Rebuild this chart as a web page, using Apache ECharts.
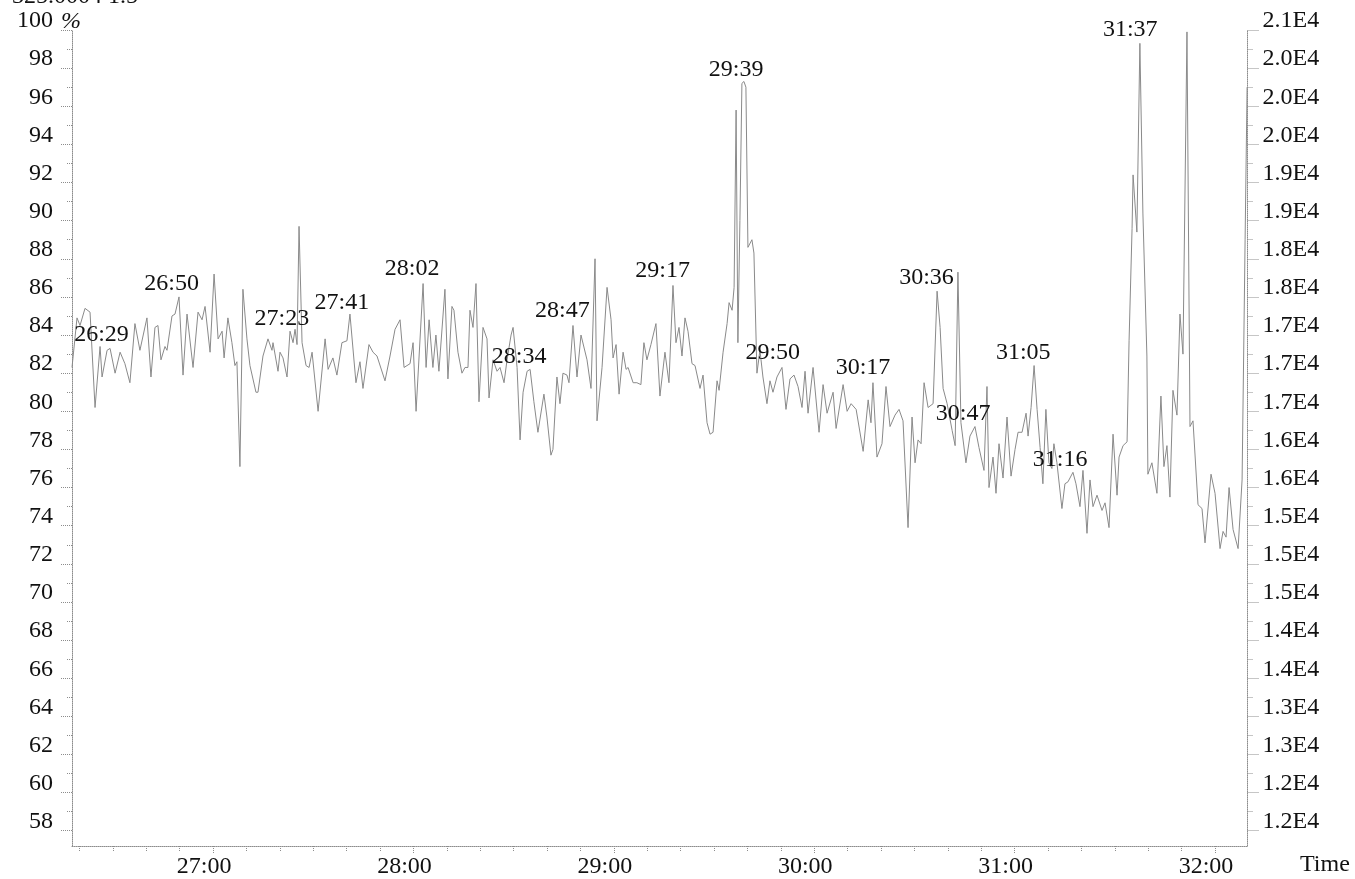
<!DOCTYPE html>
<html>
<head>
<meta charset="utf-8">
<script src="https://cdn.jsdelivr.net/npm/echarts@6/dist/echarts.min.js"></script>
<style>
html,body{margin:0;padding:0;background:#fff;}
#chart{width:1355px;height:879px;}
</style>
</head>
<body>
<div id="chart"></div>
<script>
// Retention time (minutes) of each sampled point
var traceTimes = [
26.296,26.321,26.336,26.361,26.386,26.411,26.436,26.446,26.471,26.486,26.511,26.536,26.560,26.585,26.610,26.635,26.670,26.690,26.710,26.725,
26.740,26.760,26.770,26.795,26.810,26.830,26.850,26.870,26.900,26.925,26.945,26.960,26.985,27.005,27.025,27.045,27.055,27.074,27.094,27.109,
27.119,27.134,27.149,27.169,27.184,27.214,27.224,27.249,27.274,27.294,27.299,27.324,27.334,27.349,27.369,27.384,27.399,27.409,27.419,27.429,
27.444,27.464,27.479,27.494,27.524,27.559,27.574,27.598,27.618,27.643,27.668,27.683,27.713,27.733,27.748,27.778,27.798,27.818,27.858,27.883,
27.908,27.933,27.953,27.983,27.998,28.013,28.048,28.063,28.078,28.097,28.112,28.127,28.157,28.172,28.192,28.202,28.222,28.242,28.257,28.272,
28.282,28.297,28.312,28.327,28.347,28.367,28.377,28.397,28.417,28.432,28.452,28.467,28.487,28.497,28.517,28.532,28.547,28.567,28.582,28.601,
28.621,28.651,28.666,28.686,28.696,28.716,28.731,28.746,28.766,28.776,28.796,28.816,28.836,28.866,28.886,28.906,28.916,28.941,28.966,28.986,
28.996,29.011,29.026,29.046,29.061,29.071,29.096,29.115,29.135,29.150,29.165,29.185,29.210,29.230,29.255,29.275,29.295,29.310,29.325,29.340,
29.355,29.370,29.390,29.405,29.430,29.445,29.465,29.480,29.495,29.515,29.525,29.545,29.565,29.575,29.590,29.600,29.610,29.619,29.629,29.639,
29.649,29.659,29.669,29.689,29.699,29.714,29.729,29.744,29.764,29.779,29.794,29.814,29.839,29.859,29.879,29.899,29.919,29.939,29.954,29.969,
29.994,30.024,30.044,30.064,30.094,30.109,30.144,30.164,30.184,30.209,30.244,30.269,30.283,30.293,30.313,30.338,30.358,30.378,30.403,30.423,
30.443,30.468,30.488,30.503,30.518,30.533,30.548,30.568,30.593,30.613,30.628,30.643,30.663,30.688,30.703,30.717,30.732,30.757,30.777,30.802,
30.822,30.847,30.862,30.872,30.892,30.907,30.922,30.942,30.962,30.982,31.002,31.017,31.037,31.057,31.067,31.082,31.097,31.112,31.127,31.141,
31.156,31.171,31.186,31.196,31.211,31.236,31.251,31.266,31.291,31.306,31.326,31.341,31.361,31.376,31.391,31.411,31.436,31.451,31.471,31.491,
31.511,31.521,31.541,31.561,31.571,31.586,31.591,31.610,31.625,31.640,31.660,31.665,31.685,31.710,31.730,31.745,31.760,31.775,31.790,31.810,
31.825,31.840,31.860,31.875,31.890,31.915,31.935,31.950,31.980,32.000,32.025,32.040,32.055,32.070,32.090,32.115,32.135,32.150,32.160
];
// Relative intensity (%) at each point
var tracePercent = [
82.3,84.9,84.5,85.4,85.2,80.2,83.4,81.8,83.2,83.3,82.0,83.1,82.5,81.5,84.6,83.2,84.9,81.8,84.4,84.5,
82.7,83.4,83.2,85.0,85.1,86.0,81.9,85.1,82.3,85.2,84.8,85.5,83.1,87.2,83.8,84.2,82.8,84.9,83.6,82.4,
82.6,77.1,86.4,83.8,82.4,81.0,81.0,82.9,83.8,83.2,83.6,82.1,83.1,82.8,81.8,84.2,83.6,84.3,83.5,89.7,
83.6,82.4,82.3,83.1,80.0,83.8,82.2,82.8,81.9,83.6,83.7,85.1,81.5,82.6,81.2,83.5,83.1,82.9,81.6,82.9,
84.3,84.8,82.3,82.5,83.6,80.0,86.7,82.3,84.8,82.3,84.0,82.1,86.4,81.7,85.5,85.3,83.1,82.0,82.3,82.3,
85.3,84.4,86.7,80.5,84.4,83.8,80.7,82.7,82.1,82.3,81.5,82.7,84.0,84.4,82.3,78.5,81.0,82.1,82.2,80.5,
78.9,80.9,79.7,77.7,78.0,81.8,80.4,82.0,81.9,81.5,84.5,81.8,84.0,82.7,81.2,88.0,79.5,82.3,86.5,84.8,
82.8,83.5,80.9,83.1,82.2,82.3,81.5,81.5,81.4,83.6,82.7,83.5,84.6,80.8,83.1,81.5,86.6,83.6,84.4,82.9,
84.9,84.2,82.5,82.4,81.2,81.9,79.4,78.8,78.9,81.6,81.1,83.1,84.6,85.7,85.3,86.5,95.8,83.6,90.0,97.2,
97.3,97.0,88.6,89.0,88.3,82.0,83.2,81.8,80.4,81.6,81.0,81.8,82.3,80.1,81.7,81.9,81.3,80.2,82.1,79.9,
82.3,78.9,81.4,79.9,81.0,79.1,81.4,80.0,80.4,80.1,77.9,80.6,79.4,81.5,77.6,78.3,81.3,79.2,79.8,80.1,
79.5,73.9,79.7,77.3,78.5,78.3,81.5,80.2,80.4,86.3,84.4,81.2,80.4,79.0,78.2,87.3,79.4,77.3,78.7,79.2,
78.1,76.9,81.3,76.0,77.6,75.7,78.3,76.5,79.7,76.6,78.0,78.9,78.9,79.9,78.7,80.2,82.4,80.1,78.1,76.2,
80.1,77.3,77.0,78.3,77.3,74.9,76.2,76.3,76.8,76.2,75.0,76.9,73.6,76.4,75.0,75.6,74.8,75.2,73.9,78.8,
75.6,77.6,78.2,78.4,83.7,89.6,92.4,89.4,99.3,90.4,82.9,76.7,77.3,75.7,80.8,77.1,78.2,75.5,81.1,79.8,
85.1,83.0,99.9,79.2,79.5,75.1,74.9,73.1,76.7,75.7,72.8,73.7,73.4,76.0,73.8,72.8,76.4,89.0,97.0
];
// Peak annotations: retention-time text, time (min) and level (%) where the text sits
var peakLabels = ['26:29','26:50','27:23','27:41','28:02','28:34','28:47','29:17','29:39','29:50','30:17','30:36','30:47','31:05','31:16','31:37'];
var peakTimes  = [26.483,26.833,27.383,27.683,28.033,28.567,28.783,29.283,29.650,29.833,30.283,30.600,30.783,31.083,31.267,31.617];
var peakLevels = [84.0,86.7,84.85,85.7,87.5,82.85,85.3,87.4,97.9,83.05,82.3,87.0,79.9,83.1,77.45,100.0];

// Axis ticks
var xTickMinutes = [27,28,29,30,31,32];
var xTickLabels  = ['27:00','28:00','29:00','30:00','31:00','32:00'];
var leftTickValues = [58,60,62,64,66,68,70,72,74,76,78,80,82,84,86,88,90,92,94,96,98,100];
var rightTickLabels = ['1.2E4','1.2E4','1.3E4','1.3E4','1.4E4','1.4E4','1.5E4','1.5E4','1.5E4','1.6E4','1.6E4','1.7E4','1.7E4','1.7E4','1.8E4','1.8E4','1.9E4','1.9E4','2.0E4','2.0E4','2.0E4','2.1E4'];
var headerText = '325.0004 1.5';

var X_MIN = 26.296, X_MAX = 32.162, Y_MIN = 57.2, Y_MAX = 100;
var FONT = 'Liberation Serif';
var FS = 24;

var minorY = [];
for (var v = 59; v < 100; v += 2) minorY.push(v);
var minorX = [];
for (var s = 26 * 60 + 20; s <= 32 * 60 + 10; s += 10) { if (s % 60 !== 0) minorX.push(s / 60); }

var lineData = traceTimes.map(function (t, i) { return [t, tracePercent[i]]; });
var peakData = peakTimes.map(function (t, i) { return [t, peakLevels[i], peakLabels[i]]; });

var axisLineStyle = { color: '#8c8c8c', width: 1, type: 'dotted' };
var tickLineStyle = { color: '#8c8c8c', width: 1, type: 'dotted' };

function yAxisBase(pos) {
  return { type: 'value', position: pos, min: Y_MIN, max: Y_MAX, splitLine: { show: false }, gridIndex: 0 };
}

var chart = echarts.init(document.getElementById('chart'), null, { renderer: 'canvas' });
chart.setOption({
  animation: false,
  backgroundColor: '#ffffff',
  grid: { left: 72, right: 107.5, top: 30, bottom: 33, containLabel: false },
  xAxis: [
    {
      type: 'value', min: X_MIN, max: X_MAX, position: 'bottom',
      axisLine: { show: true, lineStyle: axisLineStyle },
      axisTick: { show: true, customValues: xTickMinutes, length: 8, lineStyle: tickLineStyle },
      axisLabel: {
        show: true, customValues: xTickMinutes, margin: 21, verticalAlign: 'middle',
        padding: [0, 18, 0, 0],
        fontFamily: FONT, fontSize: FS, color: '#111',
        formatter: function (v) { var i = xTickMinutes.indexOf(Math.round(v)); return i >= 0 ? xTickLabels[i] : ''; }
      },
      splitLine: { show: false }
    },
    {
      type: 'value', min: X_MIN, max: X_MAX, position: 'bottom',
      axisLine: { show: false },
      axisTick: { show: true, customValues: minorX, length: 5, lineStyle: tickLineStyle },
      axisLabel: { show: false },
      splitLine: { show: false }
    }
  ],
  yAxis: [
    Object.assign(yAxisBase('left'), {
      axisLine: { show: true, lineStyle: axisLineStyle },
      axisTick: { show: true, customValues: leftTickValues, length: 12, lineStyle: tickLineStyle },
      axisLabel: {
        show: true, customValues: leftTickValues, margin: 19, verticalAlign: 'bottom', lineHeight: 18,
        fontFamily: FONT, fontSize: FS, color: '#111',
        formatter: function (v) { return String(Math.round(v)); }
      }
    }),
    Object.assign(yAxisBase('left'), {
      axisLine: { show: false },
      axisTick: { show: true, customValues: minorY, length: 5, lineStyle: tickLineStyle },
      axisLabel: { show: false }
    }),
    Object.assign(yAxisBase('right'), {
      axisLine: { show: true, lineStyle: axisLineStyle },
      axisTick: { show: true, customValues: leftTickValues, length: 12, lineStyle: tickLineStyle },
      axisLabel: {
        show: true, customValues: leftTickValues, margin: 15, verticalAlign: 'bottom', lineHeight: 18,
        fontFamily: FONT, fontSize: FS, color: '#111',
        formatter: function (v) { var i = leftTickValues.indexOf(Math.round(v)); return i >= 0 ? rightTickLabels[i] : ''; }
      }
    }),
    Object.assign(yAxisBase('right'), {
      axisLine: { show: false },
      axisTick: { show: true, customValues: minorY, length: 5, lineStyle: tickLineStyle },
      axisLabel: { show: false }
    })
  ],
  series: [
    {
      type: 'line', xAxisIndex: 0, yAxisIndex: 0, data: lineData,
      showSymbol: false, symbol: 'none', silent: true, clip: false,
      lineStyle: { color: '#8a8a8a', width: 1 }
    },
    {
      type: 'scatter', xAxisIndex: 0, yAxisIndex: 0, data: peakData,
      symbol: 'circle', symbolSize: 1, itemStyle: { color: '#ffffff', opacity: 1 }, silent: true, clip: false, z: 5,
      label: {
        show: true, position: 'inside', offset: [-8, 0], opacity: 1,
        textBorderWidth: 0, textShadowBlur: 0,
        fontFamily: FONT, fontSize: FS, color: '#111111',
        formatter: function (p) { return p.data[2]; }
      }
    }
  ],
  graphic: [
    { type: 'text', left: 12, top: -15, style: { text: headerText, font: FS + 'px "' + FONT + '"', fill: '#111' } },
    { type: 'text', left: 61, top: 10, style: { text: '%', font: 'italic ' + FS + 'px "' + FONT + '"', fill: '#111' } },
    { type: 'text', left: 1300, top: 853, style: { text: 'Time', font: FS + 'px "' + FONT + '"', fill: '#111' } }
  ]
});
</script>
</body>
</html>
